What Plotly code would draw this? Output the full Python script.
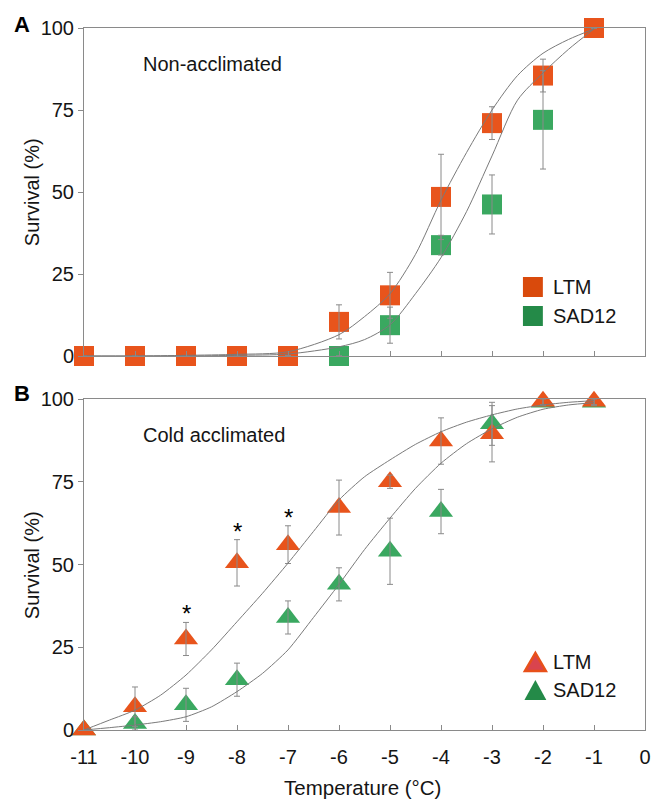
import plotly.graph_objects as go

# ---------------- data ----------------
temps = [-11, -10, -9, -8, -7, -6, -5, -4, -3, -2, -1]
x_tick_vals = [-11, -10, -9, -8, -7, -6, -5, -4, -3, -2, -1, 0]
x_tick_text = ["-11", "-10", "-9", "-8", "-7", "-6", "-5", "-4", "-3", "-2", "-1", "0"]
y_tick_vals = [0, 25, 50, 75, 100]

# Panel A: non-acclimated
a_ltm = [0, 0, 0, 0, 0, 10.4, 18.5, 48.5, 71, 85.5, 100]
a_ltm_err = [0, 0, 0, 0, 0, 5.2, 7, 13, 5, 5, 0]
a_sad = [0, 0, 0, 0, 0, 0, 9.4, 33.8, 46.2, 72, 100]
a_sad_err = [0, 0, 0, 0, 0, 0, 5.5, 3, 9, 15, 0]

a_fit_x = [-11, -10, -9, -8, -7, -6, -5.5, -5, -4.5, -4, -3.5, -3, -2.5, -2, -1.5, -1]
a_fit_ltm = [0, 0, 0.2, 0.5, 1.3, 6.5, 12, 19, 31, 47.5, 62, 75, 85.5, 92.3, 96.5, 99.7]
a_fit_sad = [0, 0, 0, 0.2, 0.6, 2.8, 5, 9.5, 19, 30, 44, 61, 78, 86.3, 93.5, 99.7]

# Panel B: cold acclimated
b_ltm = [0, 7, 27.5, 50.5, 56, 67.2, 75, 87.3, 89.5, 99.3, 99.3]
b_ltm_err = [0, 6, 5, 7, 5.7, 8.3, 2, 7, 8.5, 1, 1]
b_sad = [0, 2, 7.6, 15.2, 34, 44, 54, 66, 92.5, 99, 99]
b_sad_err = [0, 2, 5, 5, 5, 5, 10, 6.7, 6.5, 1, 1]
sig_temps = [-9, -8, -7]

b_fit_x = [-11, -10.5, -10, -9.5, -9, -8.5, -8, -7.5, -7, -6.5, -6, -5.5, -5, -4.5, -4, -3.5, -3, -2.5, -2, -1.5, -1]
b_fit_ltm = [0, 3, 6, 10.5, 16.6, 24.2, 32.7, 41.3, 50.4, 60, 69.5, 76.5, 81.6, 86.3, 90.1, 93, 95.2, 97, 98.2, 99, 99.5]
b_fit_sad = [0, 0.7, 1.5, 2.5, 4.0, 7.0, 11.6, 17.1, 24.2, 34, 44, 54.5, 64, 73, 80.6, 86.5, 91, 94.5, 96.9, 98.2, 98.9]

# ---------------- style ----------------
W, H = 663, 799
ML, MR, MT, MB = 84, 16, 28, 69
ORANGE = "#E8541C"
GREEN = "#3AA860"
ORANGE_LEG = "#D94A0C"
GREEN_LEG = "#248A48"
GRAY = "#8a8a8a"
FONT = "Liberation Sans, Arial, sans-serif"
TXT = "#151515"


def pxx(px):
    return (px - ML) / (W - ML - MR)


def pxy(py):
    return (H - MB - py) / (H - MT - MB)


domA = [pxy(356), 1.0]
domB = [0.0, pxy(399)]

fig = go.Figure()


def add_panel(xa, ya, ltm, ltm_err, sad, sad_err, symbol, size, fit_x, fit_ltm, fit_sad, smooth):
    # markers
    fig.add_trace(go.Scatter(x=temps, y=sad, mode="markers", xaxis=xa, yaxis=ya,
                             marker=dict(symbol=symbol, size=size, color=GREEN,
                                         line=dict(width=0)),
                             cliponaxis=False, showlegend=False))
    fig.add_trace(go.Scatter(x=temps, y=ltm, mode="markers", xaxis=xa, yaxis=ya,
                             marker=dict(symbol=symbol, size=size, color=ORANGE,
                                         line=dict(width=0)),
                             cliponaxis=False, showlegend=False))
    # error bars on top
    for vals, errs in ((sad, sad_err), (ltm, ltm_err)):
        fig.add_trace(go.Scatter(x=temps, y=vals, mode="markers", xaxis=xa, yaxis=ya,
                                 marker=dict(size=1, color="rgba(0,0,0,0)"),
                                 error_y=dict(type="data", array=errs, visible=True,
                                              color=GRAY, thickness=1, width=3),
                                 cliponaxis=False, showlegend=False, hoverinfo="skip"))
    # fitted curves
    for fy in (fit_ltm, fit_sad):
        fig.add_trace(go.Scatter(x=fit_x, y=fy, mode="lines", xaxis=xa, yaxis=ya,
                                 line=dict(color="#7a7a7a", width=1, shape="spline",
                                           smoothing=smooth),
                                 showlegend=False, hoverinfo="skip"))


add_panel("x", "y", a_ltm, a_ltm_err, a_sad, a_sad_err, "square", 20,
          a_fit_x, a_fit_ltm, a_fit_sad, 0.8)
add_panel("x2", "y2", b_ltm, b_ltm_err, b_sad, b_sad_err, "triangle-up", 21,
          b_fit_x, b_fit_ltm, b_fit_sad, 0.6)

axis_common = dict(showline=True, mirror=True, linecolor=GRAY, linewidth=1,
                   showgrid=False, zeroline=False, tickcolor=GRAY, ticklen=5,
                   tickfont=dict(family=FONT, size=20, color=TXT))

fig.update_layout(
    width=W, height=H,
    margin=dict(l=ML, r=MR, t=MT, b=MB),
    paper_bgcolor="white", plot_bgcolor="white",
    showlegend=False,
    xaxis=dict(axis_common, range=[-11, 0], domain=[0, 1], anchor="y",
               tickvals=x_tick_vals, showticklabels=False, ticks="inside"),
    yaxis=dict(axis_common, range=[0, 100], domain=domA, anchor="x",
               tickvals=y_tick_vals, ticks="outside"),
    xaxis2=dict(axis_common, range=[-11, 0], domain=[0, 1], anchor="y2",
                tickvals=x_tick_vals, ticktext=x_tick_text, ticks="inside",
                ticklabelstandoff=9),
    yaxis2=dict(axis_common, range=[0, 100], domain=domB, anchor="x2",
                tickvals=y_tick_vals, ticks="outside"),
)

ann = []
# panel letters
ann.append(dict(text="<b>A</b>", x=pxx(12), y=pxy(24), xref="paper", yref="paper",
                xanchor="left", yanchor="middle", showarrow=False,
                font=dict(family=FONT, size=22, color="black")))
ann.append(dict(text="<b>B</b>", x=pxx(12), y=pxy(394), xref="paper", yref="paper",
                xanchor="left", yanchor="middle", showarrow=False,
                font=dict(family=FONT, size=22, color="black")))
# panel titles
ann.append(dict(text="Non-acclimated", x=pxx(141), y=pxy(64), xref="paper", yref="paper",
                xanchor="left", yanchor="middle", showarrow=False,
                font=dict(family=FONT, size=20, color=TXT)))
ann.append(dict(text="Cold acclimated", x=pxx(141), y=pxy(435), xref="paper", yref="paper",
                xanchor="left", yanchor="middle", showarrow=False,
                font=dict(family=FONT, size=20, color=TXT)))
# axis titles
for yc in (192, 565):
    ann.append(dict(text="Survival (%)", x=pxx(32), y=pxy(yc), xref="paper", yref="paper",
                    xanchor="center", yanchor="middle", textangle=-90, showarrow=False,
                    font=dict(family=FONT, size=20, color=TXT)))
ann.append(dict(text="Temperature (°C)", x=pxx(363), y=pxy(787), xref="paper", yref="paper",
                xanchor="center", yanchor="middle", showarrow=False,
                font=dict(family=FONT, size=20.5, color=TXT)))
# significance asterisks
for t in sig_temps:
    i = temps.index(t)
    ann.append(dict(text="*", x=t, y=b_ltm[i] + b_ltm_err[i], xref="x2", yref="y2",
                    xanchor="center", yanchor="bottom", yshift=-7, showarrow=False,
                    font=dict(family=FONT, size=24, color="black")))
# legend labels
for name, yc in (("LTM", 287), ("SAD12", 316), ("LTM", 662), ("SAD12", 690)):
    ann.append(dict(text=name, x=pxx(553), y=pxy(yc), xref="paper", yref="paper",
                    xanchor="left", yanchor="middle", showarrow=False,
                    font=dict(family=FONT, size=20, color=TXT)))
fig.update_layout(annotations=ann)

# legend symbols
shapes = []
for color, yc in ((ORANGE_LEG, 287), (GREEN_LEG, 316)):
    shapes.append(dict(type="rect", xref="paper", yref="paper",
                       x0=pxx(524.5), x1=pxx(544.5), y0=pxy(yc + 10), y1=pxy(yc - 10),
                       fillcolor=color, line=dict(width=0)))


def tri_path(cx, cy, w, h):
    return (f"M {pxx(cx - w / 2)},{pxy(cy + h / 2)} L {pxx(cx + w / 2)},{pxy(cy + h / 2)} "
            f"L {pxx(cx)},{pxy(cy - h / 2)} Z")


shapes.append(dict(type="path", xref="paper", yref="paper", path=tri_path(537, 662, 21, 18),
                   fillcolor="#D9444E", line=dict(color="#E8501A", width=2.5)))
shapes.append(dict(type="path", xref="paper", yref="paper", path=tri_path(537, 690, 22, 20),
                   fillcolor=GREEN_LEG, line=dict(width=0)))
fig.update_layout(shapes=shapes)

fig.write_html("out.html")
